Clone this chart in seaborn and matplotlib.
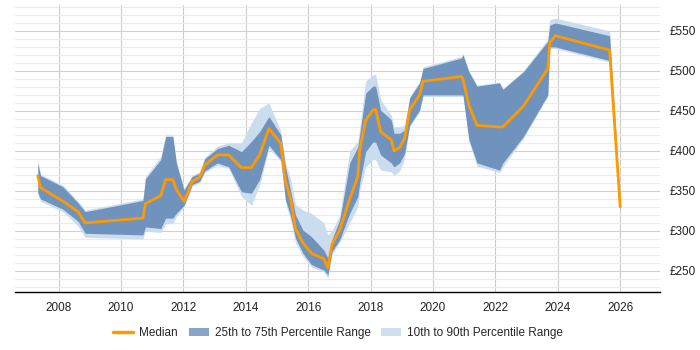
# salary percentile chart (median + 25-75 + 10-90 bands)

import numpy as np
import pandas as pd
import seaborn as sns
import matplotlib.pyplot as plt
from matplotlib.ticker import MultipleLocator, FuncFormatter
from matplotlib.patches import Patch
from matplotlib.lines import Line2D

# data (x as decimal year)
years = [2007.33, 2007.42, 2008.14, 2008.62, 2008.85, 2010.70, 2010.78, 2011.27,
         2011.43, 2011.66, 2011.77, 2012.02, 2012.28, 2012.52, 2012.68, 2013.09,
         2013.45, 2013.86, 2014.18, 2014.44, 2014.74, 2015.12, 2015.27, 2015.44,
         2015.59, 2015.83, 2016.10, 2016.50, 2016.63, 2016.76, 2017.01, 2017.33,
         2017.59, 2017.65, 2017.84, 2018.07, 2018.16, 2018.32, 2018.66, 2018.75,
         2018.93, 2019.09, 2019.25, 2019.57, 2019.68, 2020.91, 2020.96, 2021.15,
         2021.41, 2022.13, 2022.24, 2022.90, 2023.68, 2023.74, 2023.92, 2025.66,
         2026.00]
p10 = [345, 337, 324, 306, 292, 290, 300, 298, 309, 309, 318, 330, 356, 360, 373,
       382, 378, 343, 332, 357, 403, 387, 336, 312, 285, 268, 255, 249, 241, 270,
       286, 310, 330, 350, 380, 389, 389, 376, 374, 369, 375, 390, 430, 449, 468,
       468, 468, 412, 381, 373, 380, 416, 468, 528, 528, 511, 322]
p25 = [348, 340, 327, 312, 297, 295, 305, 303, 316, 316, 322, 332, 358, 362, 375,
       385, 380, 349, 347, 364, 407, 389, 339, 318, 291, 272, 258, 251, 245, 274,
       289, 322, 343, 360, 399, 411, 411, 395, 385, 380, 385, 397, 432, 451, 470,
       470, 470, 414, 385, 376, 385, 418, 470, 530, 530, 513, 324]
median = [369, 354, 337, 324, 310, 316, 334, 344, 364, 364, 352, 337, 362, 367, 382,
          395, 395, 379, 379, 395, 428, 409, 362, 339, 303, 285, 272, 265, 254, 283,
          301, 340, 368, 401, 438, 451, 452, 424, 414, 400, 404, 416, 451, 470, 487,
          493, 490, 457, 432, 430, 430, 456, 503, 535, 544, 526, 330]
p75 = [384, 369, 355, 335, 324, 338, 365, 389, 418, 418, 385, 351, 368, 372, 390,
       403, 407, 399, 412, 424, 443, 420, 380, 349, 320, 301, 293, 276, 266, 289,
       314, 385, 405, 420, 472, 481, 481, 451, 439, 422, 422, 426, 466, 485, 503,
       516, 520, 499, 481, 485, 477, 499, 537, 557, 560, 544, 335]
p90 = [390, 371, 357, 337, 326, 340, 368, 393, 420, 420, 388, 353, 370, 374, 392,
       406, 410, 410, 435, 453, 460, 425, 385, 364, 333, 326, 322, 310, 295, 300,
       320, 400, 412, 430, 487, 495, 496, 464, 445, 430, 430, 432, 468, 487, 505,
       518, 522, 500, 482, 486, 478, 500, 540, 564, 566, 550, 336]

df = pd.DataFrame({'year': years, 'p10': p10, 'p25': p25, 'median': median,
                   'p75': p75, 'p90': p90})

orange = '#ff9900'
dark = '#6f93bd'
light = '#cbdcee'

sns.set_style('white')
plt.rcParams['font.family'] = ['Liberation Sans', 'DejaVu Sans']

fig = plt.figure(figsize=(7, 3.5), dpi=100)
ax = fig.add_axes([0.021, 0.166, 0.922, 0.82])

# bands
ax.fill_between(df['year'], df['p10'], df['p90'], color=light, lw=0, zorder=2)
ax.fill_between(df['year'], df['p25'], df['p75'], color=dark, lw=0, zorder=3)

# median line
sns.lineplot(x='year', y='median', data=df, color=orange, lw=2, ax=ax, zorder=4)

ax.set_xlim(2006.59, 2027.28)
ax.set_ylim(223.75, 582.5)
ax.xaxis.set_major_locator(MultipleLocator(2))
ax.xaxis.set_major_formatter(FuncFormatter(lambda v, p: f'{int(round(v))}'))
ax.yaxis.set_major_locator(MultipleLocator(50))
ax.yaxis.set_minor_locator(MultipleLocator(10))
ax.yaxis.set_major_formatter(FuncFormatter(lambda v, p: f'£{int(v)}'))
ax.yaxis.tick_right()

ax.grid(axis='x', which='major', color='#cccccc', lw=0.8, zorder=0)
ax.grid(axis='y', which='major', color='#d0d0d0', lw=0.8, zorder=0)
ax.grid(axis='y', which='minor', color='#ebebeb', lw=0.8, zorder=0)
ax.set_axisbelow(True)

for s in ['top', 'left', 'right']:
    ax.spines[s].set_visible(False)
ax.spines['bottom'].set_color('black')
ax.spines['bottom'].set_linewidth(1)

ax.tick_params(axis='x', which='major', length=4, color='black', labelsize=8.5,
               labelcolor='#222222', pad=3)
ax.tick_params(axis='y', which='both', length=0, labelsize=8.5,
               labelcolor='#222222', pad=7)
ax.set_xlabel('')
ax.set_ylabel('')

handles = [Line2D([0], [0], color=orange, lw=2.5),
           Patch(facecolor='#87a5c8', edgecolor='none'),
           Patch(facecolor='#cfdfef', edgecolor='none')]
labels = ['Median', '25th to 75th Percentile Range', '10th to 90th Percentile Range']
fig.legend(handles, labels, loc='center', bbox_to_anchor=(0.483, 0.049), ncol=3,
           frameon=False, fontsize=8.5, handlelength=1.7, handletextpad=0.5,
           columnspacing=0.9)

fig.savefig('out.png', dpi=100)
